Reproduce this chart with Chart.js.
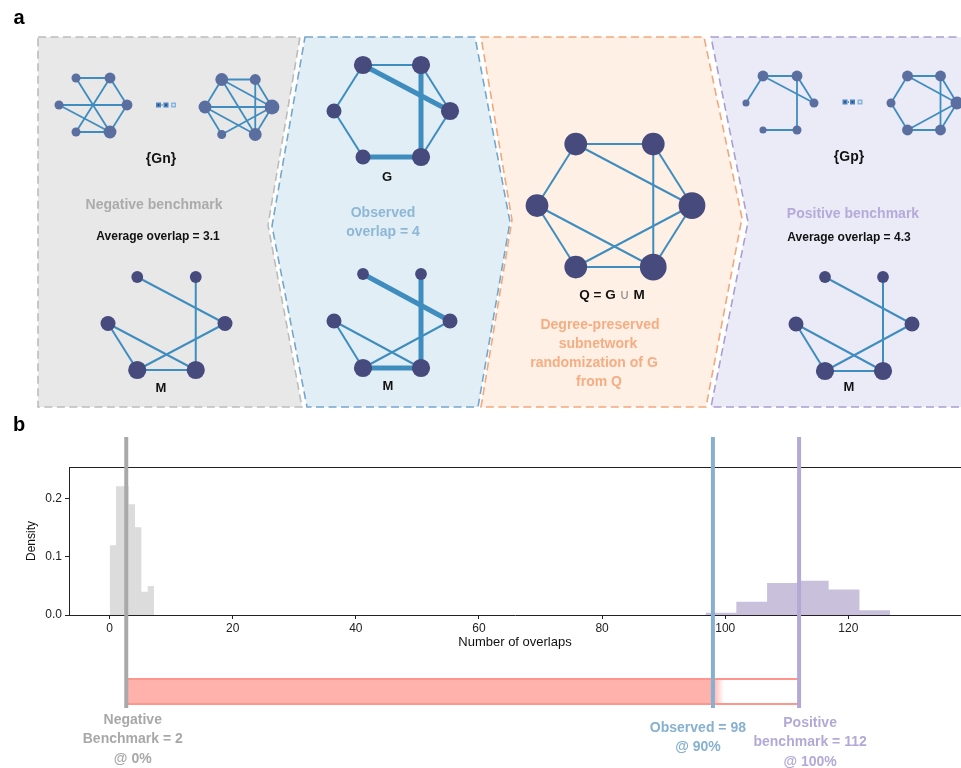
<!DOCTYPE html>
<html>
<head>
<meta charset="utf-8">
<script src="https://cdn.jsdelivr.net/npm/chart.js@4.4.1/dist/chart.umd.min.js"></script>
<style>
html, body { margin: 0; padding: 0; background: #fff; }
#wrapA { position: absolute; left: 0; top: 0; width: 961px; height: 415px; }
#wrapB { position: absolute; left: 0; top: 415px; width: 961px; height: 353px; }
</style>
</head>
<body>
<div id="wrapA"><canvas id="panelA"></canvas></div>
<div id="wrapB"><canvas id="panelB"></canvas></div>
<script>
// node order in every hexagon: 0 top-left, 1 top-right, 2 left, 3 right, 4 bottom-left, 5 bottom-right
const gnFirstEdges = [[0,1],[0,5],[1,4],[1,3],[2,3],[2,5],[3,5],[4,5]];
const gnLastEdges = [[0,1],[0,2],[0,3],[0,5],[1,5],[1,3],[2,3],[2,4],[2,5],[3,4],[3,5]];
const gpFirstEdges = [[0,1],[0,2],[0,3],[1,3],[1,5],[4,5]];
const gpLastEdges = [[0,1],[0,2],[0,3],[1,3],[1,5],[2,4],[3,4],[4,5],[3,5]];
const mEdges = [[0,3],[1,5],[2,4],[2,5],[3,4],[4,5]];
const gEdges = [[0,1],[0,2],[0,3],[1,3],[1,5],[2,4],[3,5],[4,5]];
const sharedEdges = [[0,3],[1,5],[4,5]];

// histogram (panel b)
const negEdges = [0, 1.03, 2.06, 3.09, 4.12, 5.15, 6.18, 7.21];
const negDensity = [0.12, 0.222, 0.222, 0.191, 0.151, 0.04, 0.05];
const posEdges = [96.8, 101.8, 106.8, 111.8, 116.8, 121.8, 126.8];
const posDensity = [0.004, 0.023, 0.055, 0.059, 0.044, 0.008];
const xTicks = [0, 20, 40, 60, 80, 100, 120];
const yTicks = [0, 0.1, 0.2];
const markerValues = [2.7, 98, 112];
const markerLabels = [
    ['Negative', 'Benchmark = 2', '@ 0%'],
    ['Observed = 98', '@ 90%'],
    ['Positive', 'benchmark = 112', '@ 100%']
];

const FONT = '"Liberation Sans", Arial, Helvetica, sans-serif';
const SMALL_NODE = '#5a6e9f', BIG_NODE = '#464a7c', EDGE = '#3f8dbf';

// Q = G ∪ M
const qEdges = gEdges.slice();
mEdges.forEach(e => {
    if (!qEdges.some(f => f[0] === e[0] && f[1] === e[1])) qEdges.push(e);
});

const networks = [
    { edges: gnFirstEdges, cx: 93, cy: 105, sx: 34, sy: 27, ns: 0.6, node: SMALL_NODE, lw: 1.8 },
    { edges: gnLastEdges, cx: 238.5, cy: 107, sx: 33.5, sy: 27.5, ns: 0.6, node: SMALL_NODE, lw: 1.8 },
    { edges: mEdges, cx: 166.5, cy: 323.5, sx: 58.5, sy: 46.5, ns: 1, node: BIG_NODE, lw: 2 },
    { edges: gEdges, cx: 392, cy: 111, sx: 58, sy: 46, ns: 1, node: BIG_NODE, lw: 2, thick: sharedEdges },
    { edges: mEdges, cx: 392, cy: 321, sx: 58, sy: 47, ns: 1, node: BIG_NODE, lw: 2, thick: sharedEdges },
    { edges: qEdges, cx: 614.5, cy: 205.5, sx: 77.5, sy: 61.5, ns: 1.25, node: BIG_NODE, lw: 2 },
    { edges: gpFirstEdges, cx: 780, cy: 103, sx: 34, sy: 27, ns: 0.6, node: SMALL_NODE, lw: 1.8 },
    { edges: gpLastEdges, cx: 924, cy: 103, sx: 33, sy: 27, ns: 0.6, node: SMALL_NODE, lw: 1.8 },
    { edges: mEdges, cx: 854, cy: 324, sx: 58, sy: 47, ns: 1, node: BIG_NODE, lw: 2 }
];

const panelShapes = [
    { pts: [[38,37],[300,37],[268,225],[302,407],[38,407]], fill: '#e8e8e8', stroke: '#bcbcbc' },
    { pts: [[305,37],[475,37],[510,222],[478,407],[307,407],[272,226]], fill: '#e1eef5', stroke: '#74a7cd' },
    { pts: [[481,37],[704,37],[742,218],[706,407],[481,407],[512,220]], fill: '#fef0e4', stroke: '#f3a77c' },
    { pts: [[711,37],[975,37],[975,407],[711,407],[748,222]], fill: '#ebebf8', stroke: '#ab9fd0' }
];

const panelTexts = [
    { t: '{Gn}', x: 161, y: 159, c: '#111', f: 'bold 14px ' + FONT },
    { t: 'Negative benchmark', x: 154, y: 205, c: '#ababab', f: 'bold 14px ' + FONT },
    { t: 'Average overlap = 3.1', x: 158, y: 237, c: '#111', f: 'bold 12px ' + FONT },
    { t: 'M', x: 161, y: 388, c: '#111', f: 'bold 13px ' + FONT },
    { t: 'G', x: 387, y: 177, c: '#111', f: 'bold 13px ' + FONT },
    { t: 'Observed', x: 383, y: 213, c: '#8eb7d6', f: 'bold 14px ' + FONT },
    { t: 'overlap = 4', x: 383, y: 232, c: '#8eb7d6', f: 'bold 14px ' + FONT },
    { t: 'M', x: 388, y: 386, c: '#111', f: 'bold 13px ' + FONT },
    { t: 'Degree-preserved', x: 600, y: 325, c: '#f5ad84', f: 'bold 14px ' + FONT },
    { t: 'subnetwork', x: 598, y: 344, c: '#f5ad84', f: 'bold 14px ' + FONT },
    { t: 'randomization of G', x: 594, y: 363, c: '#f5ad84', f: 'bold 14px ' + FONT },
    { t: 'from Q', x: 599, y: 382, c: '#f5ad84', f: 'bold 14px ' + FONT },
    { t: '{Gp}', x: 849, y: 157, c: '#111', f: 'bold 14px ' + FONT },
    { t: 'Positive benchmark', x: 853, y: 214, c: '#b5aad8', f: 'bold 14px ' + FONT },
    { t: 'Average overlap = 4.3', x: 849, y: 238, c: '#111', f: 'bold 12px ' + FONT },
    { t: 'M', x: 849, y: 387, c: '#111', f: 'bold 13px ' + FONT }
];

function hexLayout(n) {
    return [
        { x: n.cx - n.sx / 2, y: n.cy - n.sy },
        { x: n.cx + n.sx / 2, y: n.cy - n.sy },
        { x: n.cx - n.sx, y: n.cy },
        { x: n.cx + n.sx, y: n.cy },
        { x: n.cx - n.sx / 2, y: n.cy + n.sy },
        { x: n.cx + n.sx / 2, y: n.cy + n.sy }
    ];
}

function sameEdge(a, b) {
    return (a[0] === b[0] && a[1] === b[1]) || (a[0] === b[1] && a[1] === b[0]);
}

const datasetsA = [];
networks.forEach(n => {
    const pts = hexLayout(n);
    const degree = [0, 0, 0, 0, 0, 0];
    n.edges.forEach(e => { degree[e[0]]++; degree[e[1]]++; });
    datasetsA.push({
        data: pts,
        pointRadius: degree.map(d => n.ns * (4.3 + 1.6 * d)),
        pointBackgroundColor: n.node,
        pointBorderWidth: 0,
        order: 0
    });
    n.edges.forEach(e => {
        const isThick = n.thick && n.thick.some(t => sameEdge(t, e));
        datasetsA.push({
            data: [pts[e[0]], pts[e[1]]],
            showLine: true,
            borderColor: EDGE,
            borderWidth: isThick ? 5 : n.lw,
            pointRadius: 0,
            order: 1
        });
    });
});

function drawText(ctx, t, x, y, color, font, align) {
    ctx.fillStyle = color;
    ctx.font = font;
    ctx.textAlign = align || 'center';
    ctx.textBaseline = 'middle';
    ctx.fillText(t, x, y);
}

function drawDots(ctx, cx, cy) {
    ctx.save();
    ctx.fillStyle = '#4a84c0';
    ctx.fillRect(cx - 10, cy - 2.5, 5, 5);
    ctx.fillRect(cx - 2.5, cy - 2.5, 5, 5);
    ctx.fillStyle = '#1f2d55';
    ctx.fillRect(cx - 8.2, cy - 0.7, 1.4, 1.4);
    ctx.fillRect(cx - 0.7, cy - 0.7, 1.4, 1.4);
    ctx.fillRect(cx - 4.5, cy - 0.5, 1, 1);
    ctx.fillStyle = '#86b4de';
    ctx.fillRect(cx + 5, cy - 2.5, 5, 5);
    ctx.fillStyle = '#dbe8f5';
    ctx.fillRect(cx + 6.5, cy - 1, 2, 2);
    ctx.restore();
}

const panelAPlugin = {
    id: 'panelAPlugin',
    beforeDatasetsDraw(chart) {
        const { ctx, scales: { x, y } } = chart;
        panelShapes.forEach(p => {
            ctx.save();
            ctx.beginPath();
            p.pts.forEach((pt, i) => {
                const px = x.getPixelForValue(pt[0]), py = y.getPixelForValue(pt[1]);
                if (i === 0) ctx.moveTo(px, py); else ctx.lineTo(px, py);
            });
            ctx.closePath();
            ctx.fillStyle = p.fill;
            ctx.fill();
            ctx.setLineDash([8, 4.5]);
            ctx.lineWidth = 1.6;
            ctx.strokeStyle = p.stroke;
            ctx.stroke();
            ctx.restore();
        });
    },
    afterDatasetsDraw(chart) {
        const { ctx, scales: { x, y } } = chart;
        ctx.save();
        drawText(ctx, 'a', 19, 18, '#000', 'bold 20px ' + FONT);
        panelTexts.forEach(t => drawText(ctx, t.t, x.getPixelForValue(t.x), y.getPixelForValue(t.y), t.c, t.f));
        // Q = G ∪ M
        const qy = y.getPixelForValue(295);
        const parts = [['Q = G ', 'bold 13.5px ' + FONT, '#111'], ['\u222A', '14px "DejaVu Sans", ' + FONT, '#888'], [' M', 'bold 13.5px ' + FONT, '#111']];
        let total = 0;
        parts.forEach(p => { ctx.font = p[1]; total += ctx.measureText(p[0]).width; });
        let cur = x.getPixelForValue(612) - total / 2;
        parts.forEach(p => {
            drawText(ctx, p[0], cur, qy, p[2], p[1], 'left');
            ctx.font = p[1];
            cur += ctx.measureText(p[0]).width;
        });
        drawDots(ctx, x.getPixelForValue((networks[0].cx + networks[0].sx + networks[1].cx - networks[1].sx) / 2), y.getPixelForValue(105));
        drawDots(ctx, x.getPixelForValue((networks[6].cx + networks[6].sx + networks[7].cx - networks[7].sx) / 2), y.getPixelForValue(102));
        ctx.restore();
    }
};

new Chart(document.getElementById('panelA'), {
    type: 'scatter',
    data: { datasets: datasetsA },
    options: {
        responsive: true,
        maintainAspectRatio: false,
        animation: false,
        events: [],
        layout: { padding: 0, autoPadding: false },
        plugins: { legend: { display: false }, tooltip: { enabled: false } },
        scales: {
            x: { type: 'linear', min: 0, max: 961, display: false },
            y: { type: 'linear', min: 0, max: 415, reverse: true, display: false }
        }
    },
    plugins: [panelAPlugin]
});

// ---------- panel b ----------
function stepPoints(edges, dens) {
    const pts = dens.map((d, i) => ({ x: edges[i], y: d }));
    pts.push({ x: edges[edges.length - 1], y: 0 });
    return pts;
}

const markerColors = ['#a9a9a9', '#86b0d0', '#b4a8d4'];
const markerTextColors = ['#a8a8a8', '#86b0d0', '#b3a9d6'];

const panelBPlugin = {
    id: 'panelBPlugin',
    afterDatasetsDraw(chart) {
        const { ctx, chartArea: area, scales: { x } } = chart;
        ctx.save();
        drawText(ctx, 'b', 19, 10, '#000', 'bold 20px ' + FONT);
        // top frame line
        ctx.strokeStyle = '#222';
        ctx.lineWidth = 1;
        ctx.beginPath();
        ctx.moveTo(area.left, area.top + 0.5);
        ctx.lineTo(chart.width, area.top + 0.5);
        ctx.stroke();

        const xs = markerValues.map(v => x.getPixelForValue(v));
        // progress bar from negative to positive benchmark
        const barTop = area.bottom + 64, barBot = area.bottom + 89;
        ctx.fillStyle = '#ffb1ab';
        ctx.fillRect(xs[0], barTop, xs[1] - xs[0], barBot - barTop);
        const grad = ctx.createLinearGradient(xs[1], 0, xs[1] + 11, 0);
        grad.addColorStop(0, 'rgba(255,177,171,1)');
        grad.addColorStop(1, 'rgba(255,177,171,0)');
        ctx.fillStyle = grad;
        ctx.fillRect(xs[1], barTop, 11, barBot - barTop);
        ctx.strokeStyle = '#ff968d';
        ctx.lineWidth = 2;
        ctx.beginPath();
        ctx.moveTo(xs[0], barTop);
        ctx.lineTo(xs[2], barTop);
        ctx.moveTo(xs[0], barBot);
        ctx.lineTo(xs[2], barBot);
        ctx.stroke();

        // benchmark / observed lines
        ctx.lineWidth = 4;
        xs.forEach((px, i) => {
            ctx.strokeStyle = markerColors[i];
            ctx.beginPath();
            ctx.moveTo(px, area.top - 30);
            ctx.lineTo(px, area.bottom + 93);
            ctx.stroke();
        });

        // labels
        const offsets = [[6.5, 105], [-15, 113], [11, 108]];
        markerLabels.forEach((lines, i) => {
            lines.forEach((t, j) => {
                drawText(ctx, t, xs[i] + offsets[i][0], area.bottom + offsets[i][1] + j * 19.5, markerTextColors[i], 'bold 14px ' + FONT);
            });
        });
        ctx.restore();
    }
};

new Chart(document.getElementById('panelB'), {
    type: 'line',
    data: {
        datasets: [
            { data: stepPoints(negEdges, negDensity), stepped: true, fill: 'origin', backgroundColor: '#dcdcdc', borderWidth: 0, pointRadius: 0 },
            { data: stepPoints(posEdges, posDensity), stepped: true, fill: 'origin', backgroundColor: '#c9c1dc', borderWidth: 0, pointRadius: 0 }
        ]
    },
    options: {
        responsive: true,
        maintainAspectRatio: false,
        animation: false,
        events: [],
        layout: { padding: { top: 52, bottom: 113, left: 0, right: 0 }, autoPadding: false },
        plugins: { legend: { display: false }, tooltip: { enabled: false } },
        scales: {
            x: {
                type: 'linear',
                min: -6.6,
                max: 138.3,
                afterBuildTicks: s => { s.ticks = xTicks.map(v => ({ value: v })); },
                afterFit: s => { s.height = 40; },
                grid: { display: true, drawOnChartArea: false, drawTicks: true, tickLength: 4, color: '#222' },
                border: { display: true, color: '#222', width: 1 },
                ticks: { color: '#222', font: { family: FONT, size: 12 }, padding: 2, maxRotation: 0 },
                title: { display: true, text: 'Number of overlaps', color: '#111', font: { family: FONT, size: 13 }, padding: { top: 0, bottom: 5 } }
            },
            y: {
                type: 'linear',
                min: 0,
                max: 0.255,
                afterBuildTicks: s => { s.ticks = yTicks.map(v => ({ value: v })); },
                afterFit: s => { s.width = 69; },
                grid: { display: true, drawOnChartArea: false, drawTicks: true, tickLength: 4, color: '#222' },
                border: { display: true, color: '#222', width: 1 },
                ticks: { color: '#222', font: { family: FONT, size: 12 }, padding: 3, callback: v => v.toFixed(1) },
                title: { display: true, text: 'Density', color: '#111', font: { family: FONT, size: 12 }, padding: { top: 24, bottom: 0 } }
            }
        }
    },
    plugins: [panelBPlugin]
});
</script>
</body>
</html>
